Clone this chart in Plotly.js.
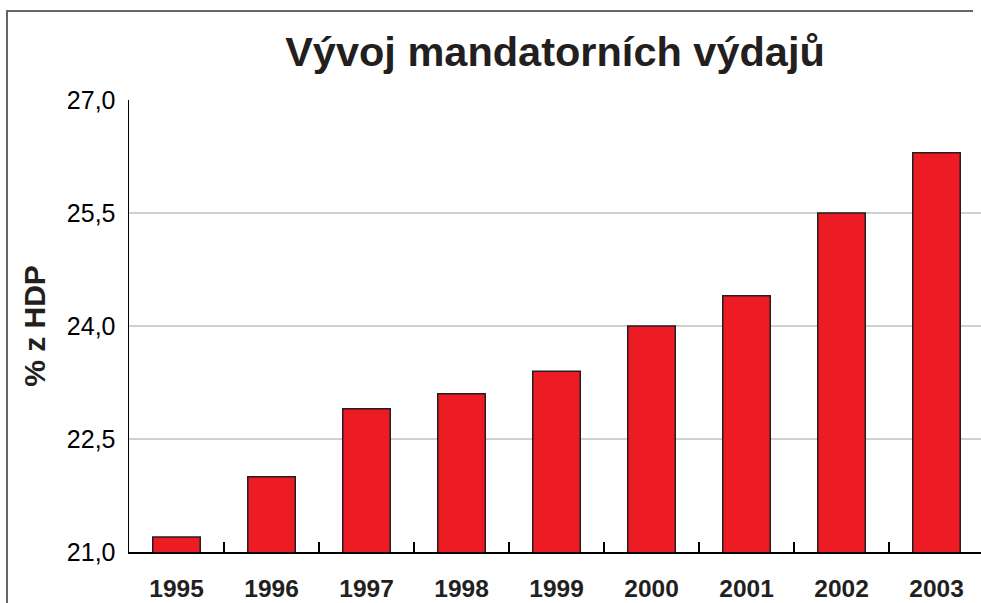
<!DOCTYPE html>
<html>
<head>
<meta charset="utf-8">
<script src="https://cdn.plot.ly/plotly-3.0.1.min.js"></script>
<style>
html,body{margin:0;padding:0;background:#fff;overflow:hidden;}
#wrap{position:relative;width:981px;height:603px;overflow:hidden;}
#chart{width:981px;height:603px;}
#frameL{position:absolute;left:6px;top:10px;width:2px;height:600px;background:#666;pointer-events:none;}
#frameT{position:absolute;left:6px;top:10px;width:967px;height:2px;background:#666;pointer-events:none;}
</style>
</head>
<body>
<div id="wrap">
<div id="chart"></div>
<div id="frameL"></div>
<div id="frameT"></div>
</div>
<script>
const years = ['1995','1996','1997','1998','1999','2000','2001','2002','2003'];
const values = [21.2, 22.0, 22.9, 23.1, 23.4, 24.0, 24.4, 25.5, 26.3];
const yTicks = [21.0, 22.5, 24.0, 25.5, 27.0];
const titleText = 'Vývoj mandatorních výdajů';
const yTitle = '% z HDP';

const W = 981, H = 603;
const mL = 129, mR = 0, mT = 100, mB = 51;

const trace = {
  type: 'bar',
  x: years,
  y: values,
  marker: {color: '#ed1c24', line: {color: '#231f20', width: 1.5}},
  hoverinfo: 'x+y'
};

const layout = {
  width: W, height: H,
  margin: {l: mL, r: mR, t: mT, b: mB},
  paper_bgcolor: '#ffffff',
  plot_bgcolor: '#ffffff',
  separators: ', ',
  showlegend: false,
  bargap: 0.5,
  title: {
    text: titleText,
    font: {family: 'Liberation Sans, Arial, sans-serif', size: 41.5, color: '#231f20', weight: 'bold'},
    x: 0.5, xref: 'paper', xanchor: 'center',
    y: 1 - 51 / H, yref: 'container', yanchor: 'middle'
  },
  xaxis: {
    type: 'category',
    range: [-0.5, 8.5 - 3 / 95],
    showline: true, linecolor: '#000000', linewidth: 1.5,
    showgrid: false, zeroline: false,
    ticks: 'inside', tickson: 'boundaries', ticklen: 10, tickwidth: 1.2, tickcolor: '#000000',
    tickfont: {family: 'Liberation Sans, Arial, sans-serif', size: 24.5, color: '#231f20', weight: 'bold'},
    ticklabelstandoff: 14,
    fixedrange: true
  },
  yaxis: {
    range: [21, 27],
    tickvals: yTicks,
    tickformat: '.1f',
    showline: true, linecolor: '#000000', linewidth: 1.5,
    showgrid: true, gridcolor: '#d0d0d0', gridwidth: 1.7,
    zeroline: false,
    ticks: '',
    ticklabelstandoff: 7,
    tickfont: {family: 'Liberation Sans, Arial, sans-serif', size: 25, color: '#000000'},
    title: {
      text: yTitle,
      font: {family: 'Liberation Sans, Arial, sans-serif', size: 30, color: '#231f20', weight: 'bold'},
      standoff: 12
    },
    automargin: false,
    fixedrange: true
  }
};

Plotly.newPlot('chart', [trace], layout, {displayModeBar: false, staticPlot: true});
</script>
</body>
</html>
